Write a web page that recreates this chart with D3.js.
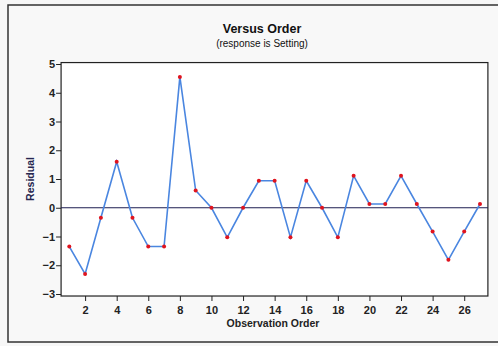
<!DOCTYPE html>
<html>
<head>
<meta charset="utf-8">
<script src="https://cdn.jsdelivr.net/npm/d3@7"></script>
<style>
body{margin:0;background:#f7f7f7;}
text{font-family:"Liberation Sans",Arial,sans-serif;}
</style>
</head>
<body>
<svg id="chart"></svg>
<script>
var screen = {width:498, height:346};
var margins = {top:64, bottom:52, left:69, right:18};

// observation order and residuals
var order = d3.range(1, 28);
var residuals = [-1.35, -2.3, -0.35, 1.6, -0.35, -1.35, -1.35, 4.55, 0.6, 0,
                 -1.03, 0, 0.94, 0.94, -1.03, 0.94, 0, -1.03, 1.11, 0.13,
                 0.13, 1.11, 0.13, -0.83, -1.81, -0.83, 0.13];
var xTicks = [2,4,6,8,10,12,14,16,18,20,22,24,26];
var yTicks = [-3,-2,-1,0,1,2,3,4,5];

var svg = d3.select("#chart")
    .attr("width",screen.width)
    .attr("height",screen.height);

// outer frame of the graph window
svg.append("rect")
    .attr("x",8).attr("y",5)
    .attr("width",500).attr("height",337)
    .attr("fill","#f8f8f8")
    .attr("stroke","#333").attr("stroke-width",1.5);

var xScale = d3.scaleLinear()
    .domain([1,27])
    .range([69.3,480]);

var yScale = d3.scaleLinear()
    .domain([-3,5])
    .range([294,64]);

// plot area
svg.append("rect")
    .attr("x",xScale(0.48)).attr("y",yScale(5.05))
    .attr("width",xScale(27.5)-xScale(0.48))
    .attr("height",yScale(-3.07)-yScale(5.05))
    .attr("fill","white")
    .attr("stroke","#222").attr("stroke-width",1.2);

//axes
var xAxis = d3.axisBottom(xScale).tickValues(xTicks).tickSize(5).tickSizeOuter(0);
var yAxis = d3.axisLeft(yScale).tickValues(yTicks).tickSize(5).tickSizeOuter(0);

var gx = svg.append("g")
    .attr("transform","translate(0,"+yScale(-3.07)+")")
    .call(xAxis);
var gy = svg.append("g")
    .attr("transform","translate("+xScale(0.48)+",0)")
    .call(yAxis);

[gx,gy].forEach(function(g)
{
    g.select(".domain").remove();
    g.selectAll("line").attr("stroke","#222");
    g.selectAll("text")
        .attr("fill","#222")
        .style("font-size","11px")
        .style("font-weight","bold");
});
gx.selectAll("text").attr("dy","0.9em");
gy.selectAll("text").attr("x",-6);

// zero reference line
svg.append("line")
    .attr("x1",xScale(0.48)).attr("x2",xScale(27.5))
    .attr("y1",yScale(0)).attr("y2",yScale(0))
    .attr("stroke","#1c1c50").attr("stroke-width",1);

var points = order.map(function(o,i){return {x:o,y:residuals[i]};});

var line = d3.line()
    .x(function(d){return xScale(d.x);})
    .y(function(d){return yScale(d.y);});

svg.append("path")
    .datum(points)
    .attr("d",line)
    .attr("fill","none")
    .attr("stroke","#4a86e0")
    .attr("stroke-width",1.6);

svg.selectAll("circle")
    .data(points)
    .enter()
    .append("circle")
    .attr("cx",function(d){return xScale(d.x);})
    .attr("cy",function(d){return yScale(d.y);})
    .attr("r",2)
    .attr("fill","#e0141e");

//titles and labels
svg.append("text")
    .attr("x",262).attr("y",33)
    .attr("text-anchor","middle")
    .style("font-size","12.5px").style("font-weight","bold")
    .attr("fill","#111")
    .text("Versus Order");

svg.append("text")
    .attr("x",262).attr("y",47)
    .attr("text-anchor","middle")
    .style("font-size","10px")
    .attr("fill","#111")
    .text("(response is Setting)");

svg.append("text")
    .attr("x",273).attr("y",327)
    .attr("text-anchor","middle")
    .style("font-size","10.5px").style("font-weight","bold")
    .attr("fill","#222")
    .text("Observation Order");

svg.append("text")
    .attr("transform","translate(34,179) rotate(-90)")
    .attr("text-anchor","middle")
    .style("font-size","10.5px").style("font-weight","bold")
    .attr("fill","#262650")
    .text("Residual");
</script>
</body>
</html>
